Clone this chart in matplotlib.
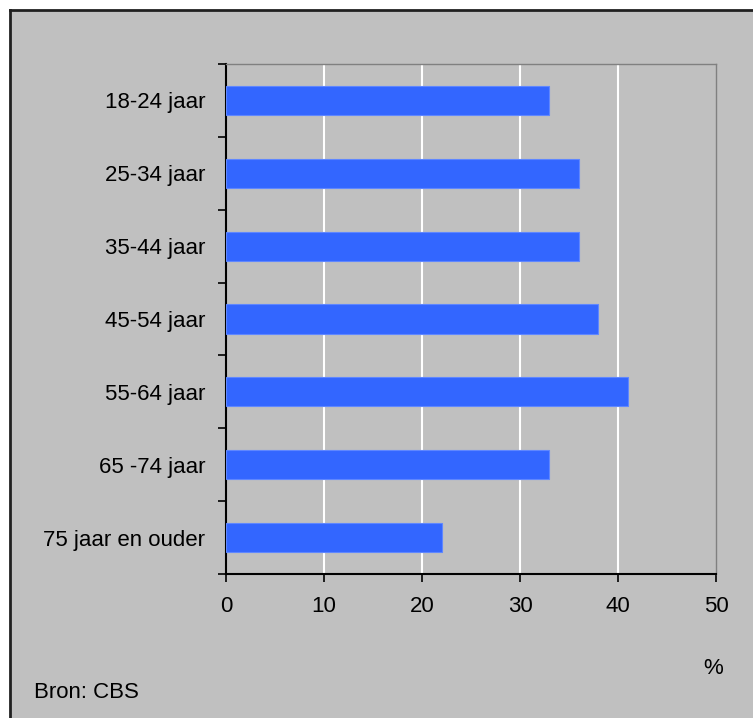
import matplotlib
matplotlib.use("Agg")
import matplotlib.pyplot as plt
from matplotlib.patches import Rectangle
from matplotlib.lines import Line2D
import numpy as np

# ── DATA ──────────────────────────────────────────────────────────────
categories = ['18-24 jaar', '25-34 jaar', '35-44 jaar', '45-54 jaar',
              '55-64 jaar', '65 -74 jaar', '75 jaar en ouder']
values     = [33, 36, 36, 38, 41, 33, 22]
x_ticks    = [0, 10, 20, 30, 40, 50]

# ── STYLE ─────────────────────────────────────────────────────────────
BG       = '#c0c0c0'
BAR      = '#3366ff'
FONTSIZE = 16
plt.rcParams['font.family'] = ['Liberation Sans', 'DejaVu Sans']

W, H = 753, 718
fig = plt.figure(figsize=(W / 100, H / 100), dpi=100, facecolor='white')

# grey panel with dark left/top border
fig.patches.append(Rectangle((10 / W, 0), 1, 1 - 10 / H, transform=fig.transFigure,
                             facecolor=BG, edgecolor='none', zorder=-10))
fig.lines.append(Line2D([10 / W, 10 / W], [0, 1 - 10 / H], transform=fig.transFigure,
                        color='#202020', lw=2, zorder=-5))
fig.lines.append(Line2D([10 / W, 1], [1 - 10 / H, 1 - 10 / H], transform=fig.transFigure,
                        color='#202020', lw=2, zorder=-5))

ax = fig.add_axes([226 / W, 1 - 574 / H, 490 / W, 510 / H])
ax.set_facecolor(BG)

y = np.arange(len(categories))
ax.barh(y, values, height=0.4, color=BAR, edgecolor='#5f87ff', linewidth=0.8, zorder=3)

ax.set_xlim(0, 50)
ax.set_ylim(len(categories) - 0.5, -0.5)

ax.set_xticks(x_ticks)
ax.set_xticklabels([str(t) for t in x_ticks], fontsize=FONTSIZE)
ax.set_yticks(y)
ax.set_yticklabels(categories, fontsize=FONTSIZE)
ax.set_yticks(np.arange(-0.5, len(categories)), minor=True)

ax.tick_params(axis='x', length=6, width=1.2, color='black', pad=10)
ax.tick_params(axis='y', which='major', length=0, pad=15)
ax.tick_params(axis='y', which='minor', length=6, width=1.2, color='black')

for xv in x_ticks[1:-1]:
    ax.axvline(xv, color='white', lw=1.5, zorder=1)

for side in ['left', 'bottom']:
    ax.spines[side].set_color('black')
    ax.spines[side].set_linewidth(1.5)
for side in ['right', 'top']:
    ax.spines[side].set_color('#808080')
    ax.spines[side].set_linewidth(1.0)

fig.text(713 / W, 1 - 668 / H, '%', fontsize=FONTSIZE, ha='center', va='center')
fig.text(34 / W, 1 - 692 / H, 'Bron: CBS', fontsize=FONTSIZE, ha='left', va='center')

fig.savefig('out.png', dpi=100, facecolor=fig.get_facecolor())
